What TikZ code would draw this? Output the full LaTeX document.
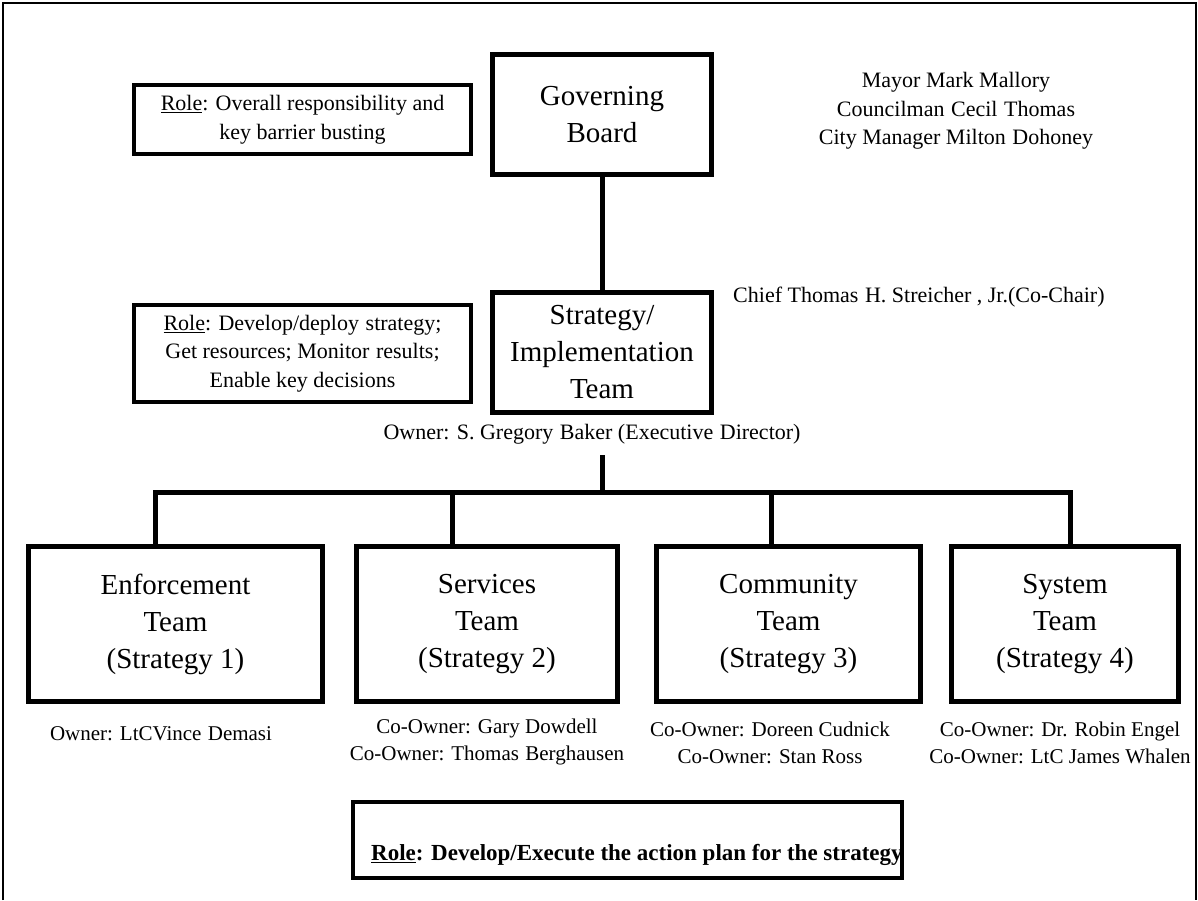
\documentclass[tikz,border=0pt]{standalone}
\usepackage{fontspec}
\setmainfont{Liberation Serif}
\usepackage{tikz}
\usetikzlibrary{positioning,calc}
\newcommand{\boxfont}{\fontsize{29}{37}\selectfont}
\newcommand{\namefont}{\fontsize{22}{28.5}\selectfont}
\newcommand{\ownerfont}{\fontsize{21}{27}\selectfont}
\newcommand{\wgap}{\hspace{0.3em}}
\tikzset{
  frameline/.style={draw,line width=2pt},
  orgbox/.style={
    draw,
    line width=5pt,
    inner sep=0pt,
    align=center,
    font=\boxfont
  },
  govbox/.style={orgbox,minimum width=219pt,minimum height=120pt},
  teambox/.style={orgbox,minimum height=155pt},
  rolebox/.style={
    draw,
    line width=4pt,
    inner sep=0pt,
    align=center,
    minimum width=337pt,
    font=\namefont
  },
  namelabel/.style={inner sep=0pt,align=center,font=\namefont},
  ownerlabel/.style={inner sep=0pt,align=center,font=\ownerfont},
  linkline/.style={draw,line width=5pt,line join=miter},
}

\begin{document}
\begin{tikzpicture}[x=1pt,y=-1pt]
  \useasboundingbox (0,0) rectangle (1198,900);
  \draw[frameline] (3,900) -- (3,3) -- (1196,3) -- (1196,900);

  % top of the chart
  \node[govbox] (gov) at (602,114.5) {Governing\\Board};
  \node[govbox] (strat) at (602,352.5) {Strategy/\\Implementation\\Team};
  \node[rolebox,minimum height=69pt] (roleGov) at (302.5,119.5) {
    \underline{Role}: Overall responsibility and\\key barrier busting
  };
  \node[rolebox,minimum height=97pt] (roleStrat) at (302.5,353.5) {
    \underline{Role}: Develop/deploy\wgap strategy;\\Get resources; Monitor\wgap results;\\Enable key decisions
  };
  \node[namelabel] (board) at (956,111) {
    Mayor Mark Mallory\\Councilman\wgap Cecil\wgap Thomas\\City Manager Milton\wgap Dohoney
  };
  \node[namelabel,anchor=west] (chair) at (733,297) {Chief Thomas\wgap H. Streicher , Jr.(Co-Chair)};
  \node[namelabel] (director) at (592,434) {Owner: S. Gregory\wgap Baker (Executive\wgap Director)};

  % teams
  \node[teambox,minimum width=294pt] (enf) at (175.5,624) {Enforcement\\Team\\(Strategy 1)};
  \node[teambox,minimum width=261pt] (serv) at (487,624) {Services\\Team\\(Strategy 2)};
  \node[teambox,minimum width=264pt] (comm) at (788.5,624) {Community\\Team\\(Strategy 3)};
  \node[teambox,minimum width=227pt] (sys) at (1065,624) {System\\Team\\(Strategy 4)};

  \node[ownerlabel] (enfOwner) at (161,734) {Owner: LtCVince\wgap Demasi};
  \node[ownerlabel] (servOwner) at (487,742) {Co-Owner: Gary Dowdell\\Co-Owner: Thomas\wgap Berghausen};
  \node[ownerlabel] (commOwner) at (770,743) {Co-Owner: Doreen Cudnick\\Co-Owner: Stan Ross};
  \node[ownerlabel] (sysOwner) at (1060,743) {Co-Owner: Dr. Robin Engel\\Co-Owner: LtC James Whalen};

  \node[rolebox,minimum width=549pt,minimum height=76pt] (roleTeam) at (627.5,840) {};
  \node[inner sep=0pt,anchor=west,font=\fontsize{23}{28}\selectfont\bfseries] (roleTeamText) at (371,855) {
    \underline{Role}: Develop/Execute the action plan for the strategy
  };

  % connectors
  \coordinate (bus) at (602,492);
  \coordinate (dropE) at (155,492);
  \coordinate (dropS) at (452,492);
  \coordinate (dropC) at (771,492);
  \coordinate (dropY) at (1070,492);

  \draw[linkline] (gov) -- (strat);
  \draw[linkline] ($(director.south -| strat.south)+(0,11)$) -- (bus);
  \draw[linkline] (dropE |- enf.north) -- (dropE) -- (dropY) -- (dropY |- sys.north);
  \draw[linkline] (dropS) -- (dropS |- serv.north);
  \draw[linkline] (dropC) -- (dropC |- comm.north);
\end{tikzpicture}
\end{document}
